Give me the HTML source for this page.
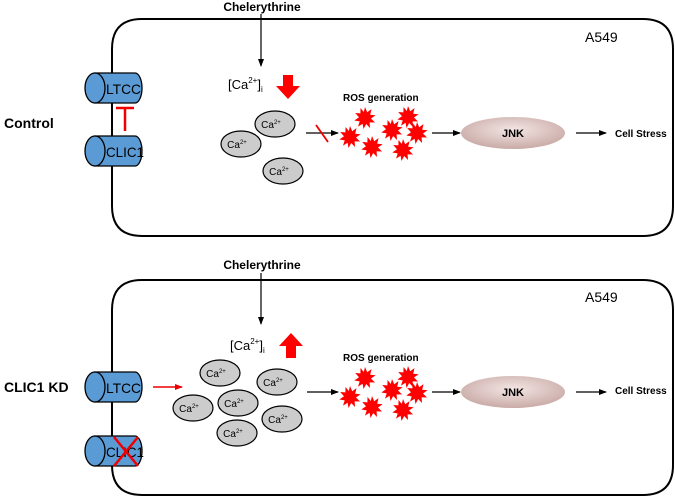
<!DOCTYPE html>
<html><head><meta charset="utf-8"><style>body{margin:0;background:#fff}svg{display:block;font-family:"Liberation Sans",Arial,sans-serif}</style></head><body>
<svg width="675" height="498" viewBox="0 0 675 498">
<defs>
<marker id="ah" markerWidth="8" markerHeight="8" refX="7" refY="4" orient="auto" markerUnits="userSpaceOnUse"><path d="M0,1 L8,4 L0,7 Z" fill="#000"/></marker>
<marker id="ahr" markerWidth="8" markerHeight="8" refX="7" refY="4" orient="auto" markerUnits="userSpaceOnUse"><path d="M0,1 L8,4 L0,7 Z" fill="#e00"/></marker>
<radialGradient id="jg" cx="50%" cy="40%" r="60%"><stop offset="0" stop-color="#f3e6e4"/><stop offset="1" stop-color="#c9aaa6"/></radialGradient>
<path id="star" d="M0,-11 L2.2,-5.8 L6.5,-8.9 L5.2,-3.2 L10.6,-2.8 L6,0.5 L10,4.5 L4.6,4.4 L5,10 L1.2,6 L-1.5,11 L-2.4,5.7 L-7,8.6 L-5.3,3.4 L-10.7,2.5 L-6,-0.8 L-9.8,-5 L-4.6,-4.6 L-4.5,-10 L-1.2,-6 Z" fill="#f00"/>
<g id="cyl"><path d="M95,0 L135,0 A7,15 0 0 1 135,30 L95,30 Z" fill="#5b9bd5" stroke="#000" stroke-width="1.3"/><ellipse cx="95" cy="15" rx="10" ry="15" fill="#5b9bd5" stroke="#000" stroke-width="1.3"/></g>
</defs>
<g fill="none" stroke="#000" stroke-width="2">
<path d="M112,206 L112,49 Q112,19 142,19 L643,19 Q673,19 673,49 L673,206 Q673,236 643,236 L142,236 Q112,236 112,206 Z"/>
<path d="M112,465 L112,310 Q112,280 142,280 L643,280 Q673,280 673,310 L673,465 Q673,495 643,495 L142,495 Q112,495 112,465 Z"/>
</g>
<text x="4" y="128" font-size="14" font-weight="bold">Control</text>
<text x="4" y="392" font-size="14" font-weight="bold">CLIC1 KD</text>
<text x="585" y="42" font-size="14">A549</text>
<text x="585" y="302" font-size="14">A549</text>
<!-- top -->
<text x="262" y="11" font-size="12" font-weight="bold" text-anchor="middle">Chelerythrine</text>
<line x1="261" y1="14" x2="261" y2="66" stroke="#000" stroke-width="1.2" marker-end="url(#ah)"/>
<text x="228" y="89" font-size="13">[Ca<tspan font-size="8" dy="-6">2+</tspan><tspan dy="6">]</tspan><tspan font-size="8" dy="3">i</tspan></text>
<path d="M283,75 L293,75 L293,86 L300,86 L288,99 L276,86 L283,86 Z" fill="#f00"/>
<g transform="translate(0,73)"><use href="#cyl"/></g>
<g transform="translate(0,136)"><use href="#cyl"/></g>
<text x="106" y="94" font-size="14" textLength="35" lengthAdjust="spacingAndGlyphs">LTCC</text><text x="106" y="157" font-size="14" textLength="38" lengthAdjust="spacingAndGlyphs">CLIC1</text>
<line x1="125" y1="108" x2="125" y2="131" stroke="#e00" stroke-width="2.5"/><line x1="116" y1="108" x2="134" y2="108" stroke="#e00" stroke-width="2.5"/>
<g fill="#ccc" stroke="#000" stroke-width="1.2"><ellipse cx="275" cy="124" rx="20" ry="13"/><ellipse cx="241" cy="144" rx="20" ry="13"/><ellipse cx="283" cy="171" rx="20" ry="13"/></g>
<g font-size="10" text-anchor="middle"><text x="271" y="128">Ca<tspan font-size="6" dy="-4">2+</tspan></text><text x="237" y="148">Ca<tspan font-size="6" dy="-4">2+</tspan></text><text x="279" y="175">Ca<tspan font-size="6" dy="-4">2+</tspan></text></g>
<line x1="306" y1="133" x2="338" y2="133" stroke="#000" stroke-width="1.3" marker-end="url(#ah)"/>
<line x1="316" y1="125" x2="328" y2="142" stroke="#e00" stroke-width="1.8"/>
<text x="343" y="101" font-size="10" font-weight="bold">ROS generation</text>
<g><use href="#star" x="365" y="118"/><use href="#star" x="350" y="137"/><use href="#star" x="372" y="147"/><use href="#star" x="392" y="130"/><use href="#star" x="408" y="117"/><use href="#star" x="417" y="133"/><use href="#star" x="403" y="150"/></g>
<line x1="432" y1="133" x2="460" y2="133" stroke="#000" stroke-width="1.3" marker-end="url(#ah)"/>
<ellipse cx="513" cy="133" rx="52" ry="16" fill="url(#jg)"/>
<text x="513" y="137" font-size="11" font-weight="bold" text-anchor="middle">JNK</text>
<line x1="576" y1="133" x2="606" y2="133" stroke="#000" stroke-width="1.3" marker-end="url(#ah)"/>
<text x="615" y="137" font-size="10" font-weight="bold">Cell Stress</text>
<!-- bottom -->
<text x="262" y="269" font-size="12" font-weight="bold" text-anchor="middle">Chelerythrine</text>
<line x1="261" y1="273" x2="261" y2="324" stroke="#000" stroke-width="1.2" marker-end="url(#ah)"/>
<text x="230" y="350" font-size="13">[Ca<tspan font-size="8" dy="-6">2+</tspan><tspan dy="6">]</tspan><tspan font-size="8" dy="3">i</tspan></text>
<path d="M291,333 L303,346 L296,346 L296,358 L286,358 L286,346 L279,346 Z" fill="#f00"/>
<g transform="translate(0,372)"><use href="#cyl"/></g>
<g transform="translate(0,436)"><use href="#cyl"/></g>
<text x="106" y="393" font-size="14" textLength="35" lengthAdjust="spacingAndGlyphs">LTCC</text><text x="106" y="457" font-size="14" textLength="38" lengthAdjust="spacingAndGlyphs">CLIC1</text>
<line x1="114" y1="437" x2="138" y2="466" stroke="#e00" stroke-width="2.5"/><line x1="138" y1="437" x2="114" y2="466" stroke="#e00" stroke-width="2.5"/>
<line x1="153" y1="387" x2="182" y2="387" stroke="#e00" stroke-width="1.5" marker-end="url(#ahr)"/>
<g fill="#ccc" stroke="#000" stroke-width="1.2"><ellipse cx="220" cy="373" rx="20" ry="13"/><ellipse cx="277" cy="382" rx="20" ry="13"/><ellipse cx="193" cy="408" rx="20" ry="13"/><ellipse cx="238" cy="403" rx="20" ry="13"/><ellipse cx="282" cy="419" rx="20" ry="13"/><ellipse cx="237" cy="433" rx="20" ry="13"/></g>
<g font-size="10" text-anchor="middle"><text x="216" y="377">Ca<tspan font-size="6" dy="-4">2+</tspan></text><text x="273" y="386">Ca<tspan font-size="6" dy="-4">2+</tspan></text><text x="189" y="412">Ca<tspan font-size="6" dy="-4">2+</tspan></text><text x="234" y="407">Ca<tspan font-size="6" dy="-4">2+</tspan></text><text x="278" y="423">Ca<tspan font-size="6" dy="-4">2+</tspan></text><text x="233" y="437">Ca<tspan font-size="6" dy="-4">2+</tspan></text></g>
<line x1="307" y1="392" x2="338" y2="392" stroke="#000" stroke-width="1.3" marker-end="url(#ah)"/>
<text x="343" y="361" font-size="10" font-weight="bold">ROS generation</text>
<g transform="translate(0,260)"><use href="#star" x="365" y="118"/><use href="#star" x="350" y="137"/><use href="#star" x="372" y="147"/><use href="#star" x="392" y="130"/><use href="#star" x="408" y="117"/><use href="#star" x="417" y="133"/><use href="#star" x="403" y="150"/></g>
<line x1="432" y1="392" x2="460" y2="392" stroke="#000" stroke-width="1.3" marker-end="url(#ah)"/>
<ellipse cx="513" cy="392" rx="52" ry="16" fill="url(#jg)"/>
<text x="513" y="396" font-size="11" font-weight="bold" text-anchor="middle">JNK</text>
<line x1="576" y1="392" x2="606" y2="392" stroke="#000" stroke-width="1.3" marker-end="url(#ah)"/>
<text x="615" y="394" font-size="10" font-weight="bold">Cell Stress</text>
</svg>
</body></html>
